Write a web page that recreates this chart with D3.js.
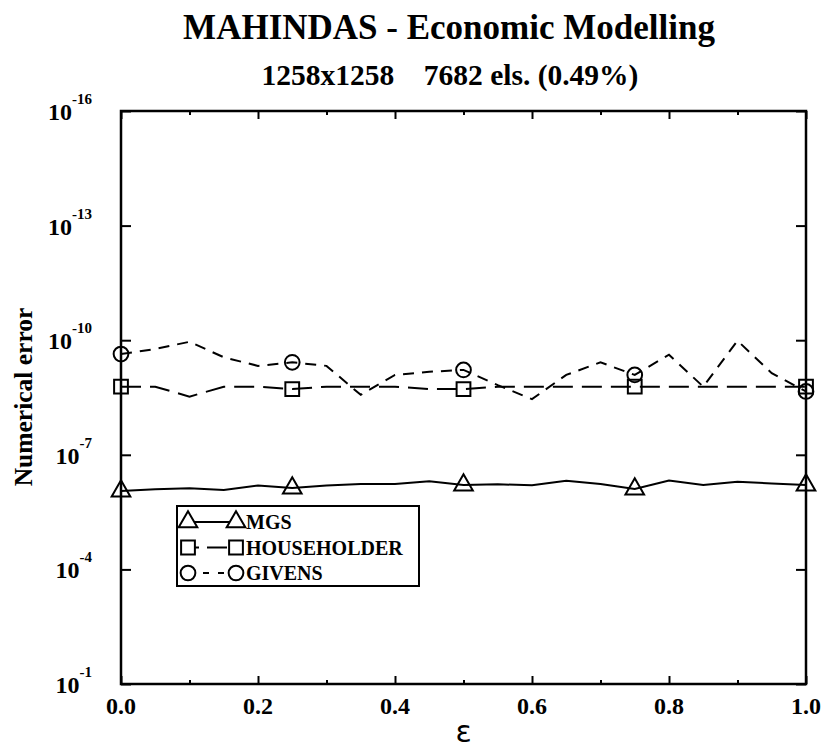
<!DOCTYPE html>
<html>
<head>
<meta charset="utf-8">
<script src="https://cdn.jsdelivr.net/npm/d3@7"></script>
</head>
<body style="margin:0; background:#fff">
<svg></svg>
<script>
// values
var eps = [0, 0.05, 0.1, 0.15, 0.2, 0.25, 0.3, 0.35, 0.4, 0.45, 0.5,
           0.55, 0.6, 0.65, 0.7, 0.75, 0.8, 0.85, 0.9, 0.95, 1.0];
var mgs = [8.9e-7, 8.0e-7, 7.5e-7, 8.3e-7, 6.4e-7, 7.4e-7, 6.4e-7, 5.8e-7, 5.8e-7, 4.9e-7, 6.2e-7,
           5.9e-7, 6.3e-7, 4.8e-7, 5.8e-7, 7.9e-7, 4.7e-7, 6.2e-7, 5.1e-7, 5.6e-7, 6.2e-7];
var householder = [1.65e-9, 1.65e-9, 3.0e-9, 1.65e-9, 1.65e-9, 1.9e-9, 1.65e-9, 1.65e-9, 1.65e-9, 1.9e-9, 1.9e-9,
                   1.65e-9, 1.65e-9, 1.65e-9, 1.65e-9, 1.65e-9, 1.65e-9, 1.65e-9, 1.65e-9, 1.65e-9, 1.65e-9];
var givens = [2.3e-10, 1.7e-10, 1.1e-10, 2.8e-10, 4.7e-10, 3.8e-10, 4.7e-10, 2.7e-9, 8.1e-10, 6.7e-10, 6.0e-10,
              1.5e-9, 3.5e-9, 8.1e-10, 3.8e-10, 8.1e-10, 2.4e-10, 1.65e-9, 1.03e-10, 7.3e-10, 2.2e-9];
var markerEvery = 5;
var yTickExps = [-16, -13, -10, -7, -4, -1];
var xMajorTicks = [0, 0.2, 0.4, 0.6, 0.8, 1.0];
var xMinorTicks = [0.1, 0.3, 0.5, 0.7, 0.9];
var seriesNames = ["MGS", "HOUSEHOLDER", "GIVENS"];

var screen = {width: 825, height: 751};
var margins = {top: 111, right: 19, bottom: 67, left: 121};
var width = screen.width - margins.left - margins.right;
var height = screen.height - margins.top - margins.bottom;
var serif = "Liberation Serif";

var svg = d3.select("svg")
    .attr("width", screen.width)
    .attr("height", screen.height);

var g = svg.append("g")
    .attr("id", "graph")
    .attr("transform", "translate(" + margins.left + "," + margins.top + ")");

var xScale = d3.scaleLinear().domain([0, 1]).range([0, width]);
var yScale = d3.scaleLog().domain([1e-16, 1e-1]).range([0, height]);

// bold serif text helper
var label = function(parent, size) {
    return parent.append("text")
        .attr("font-family", serif)
        .attr("font-weight", "bold")
        .attr("font-size", size)
        .attr("fill", "#000");
};

// titles
label(svg, 35)
    .attr("x", 449).attr("y", 39)
    .attr("text-anchor", "middle")
    .text("MAHINDAS - Economic Modelling");

label(svg, 29.5)
    .attr("x", 450).attr("y", 85)
    .attr("text-anchor", "middle")
    .attr("xml:space", "preserve")
    .text("1258x1258    7682 els. (0.49%)");

// frame
g.append("rect")
    .attr("width", width).attr("height", height)
    .attr("fill", "none").attr("stroke", "#000").attr("stroke-width", 2.5);

// axes (ticks only, labels drawn below)
var tickStyle = function(sel) {
    sel.select(".domain").remove();
    sel.selectAll("line").attr("stroke", "#000").attr("stroke-width", 2);
    sel.selectAll("text").remove();
};
g.append("g").attr("transform", "translate(0," + height + ")")
    .call(d3.axisTop(xScale).tickValues(xMajorTicks).tickSize(8)).call(tickStyle);
g.append("g").attr("transform", "translate(0," + height + ")")
    .call(d3.axisTop(xScale).tickValues(xMinorTicks).tickSize(4)).call(tickStyle);
g.append("g")
    .call(d3.axisBottom(xScale).tickValues(xMajorTicks).tickSize(8)).call(tickStyle);
g.append("g")
    .call(d3.axisBottom(xScale).tickValues(xMinorTicks).tickSize(4)).call(tickStyle);
var yTickVals = yTickExps.map(function(e) { return Math.pow(10, e); });
g.append("g")
    .call(d3.axisRight(yScale).tickValues(yTickVals).tickSize(10)).call(tickStyle);
g.append("g").attr("transform", "translate(" + width + ",0)")
    .call(d3.axisLeft(yScale).tickValues(yTickVals).tickSize(10)).call(tickStyle);

// x tick labels
xMajorTicks.forEach(function(d) {
    label(g, 24)
        .attr("x", xScale(d))
        .attr("y", height + 30)
        .attr("text-anchor", "middle")
        .text(d.toFixed(1));
});

// y tick labels 10^n
yTickExps.forEach(function(d) {
    var t = label(g, 24)
        .attr("x", -29)
        .attr("y", yScale(Math.pow(10, d)) + 9)
        .attr("text-anchor", "end");
    t.append("tspan").text("10");
    t.append("tspan").attr("dy", -16).attr("font-size", 15).text(d);
});

// axis titles
label(svg, 25.5)
    .attr("transform", "translate(32,397) rotate(-90)")
    .attr("text-anchor", "middle")
    .text("Numerical error");

svg.append("text")
    .attr("x", margins.left + width / 2).attr("y", 742)
    .attr("text-anchor", "middle")
    .attr("font-size", 30)
    .attr("font-family", "DejaVu Sans")
    .text("\u03b5");

// series
var data = eps.map(function(e, i) {
    return {x: e, mgs: mgs[i], householder: householder[i], givens: givens[i]};
});
var series = [
    {key: "mgs", dash: null, symbol: d3.symbolTriangle, size: 150},
    {key: "householder", dash: "20,9", symbol: d3.symbolSquare, size: 190},
    {key: "givens", dash: "11,8", symbol: d3.symbolCircle, size: 170}
];

series.forEach(function(s) {
    var line = d3.line()
        .x(function(d) { return xScale(d.x); })
        .y(function(d) { return yScale(d[s.key]); });
    g.append("path")
        .datum(data)
        .attr("d", line)
        .attr("fill", "none")
        .attr("stroke", "#000")
        .attr("stroke-width", 2)
        .attr("stroke-dasharray", s.dash);
    g.selectAll(".m-" + s.key)
        .data(data.filter(function(d, i) { return i % markerEvery === 0; }))
        .enter().append("path")
        .attr("d", d3.symbol().type(s.symbol).size(s.size))
        .attr("transform", function(d) {
            return "translate(" + xScale(d.x) + "," + yScale(d[s.key]) + ")";
        })
        .attr("fill", "none")
        .attr("stroke", "#000")
        .attr("stroke-width", 2);
});

// legend
var legend = svg.append("g").attr("transform", "translate(177,506)");
legend.append("rect")
    .attr("width", 242).attr("height", 80)
    .attr("fill", "#fff").attr("stroke", "#000").attr("stroke-width", 2);
series.forEach(function(s, i) {
    var yy = 16 + i * 25.5;
    legend.append("line")
        .attr("x1", 11).attr("x2", 59).attr("y1", yy).attr("y2", yy)
        .attr("stroke", "#000").attr("stroke-width", 2)
        .attr("stroke-dasharray", s.dash ? (i === 1 ? "11,8,20,9" : "6,9") : null);
    [11, 59].forEach(function(xx) {
        legend.append("path")
            .attr("d", d3.symbol().type(s.symbol).size(s.size))
            .attr("transform", "translate(" + xx + "," + yy + ")")
            .attr("fill", "#fff").attr("stroke", "#000").attr("stroke-width", 2);
    });
    label(legend, 20)
        .attr("x", 69).attr("y", yy + 7)
        .text(seriesNames[i]);
});
</script>
</body>
</html>
